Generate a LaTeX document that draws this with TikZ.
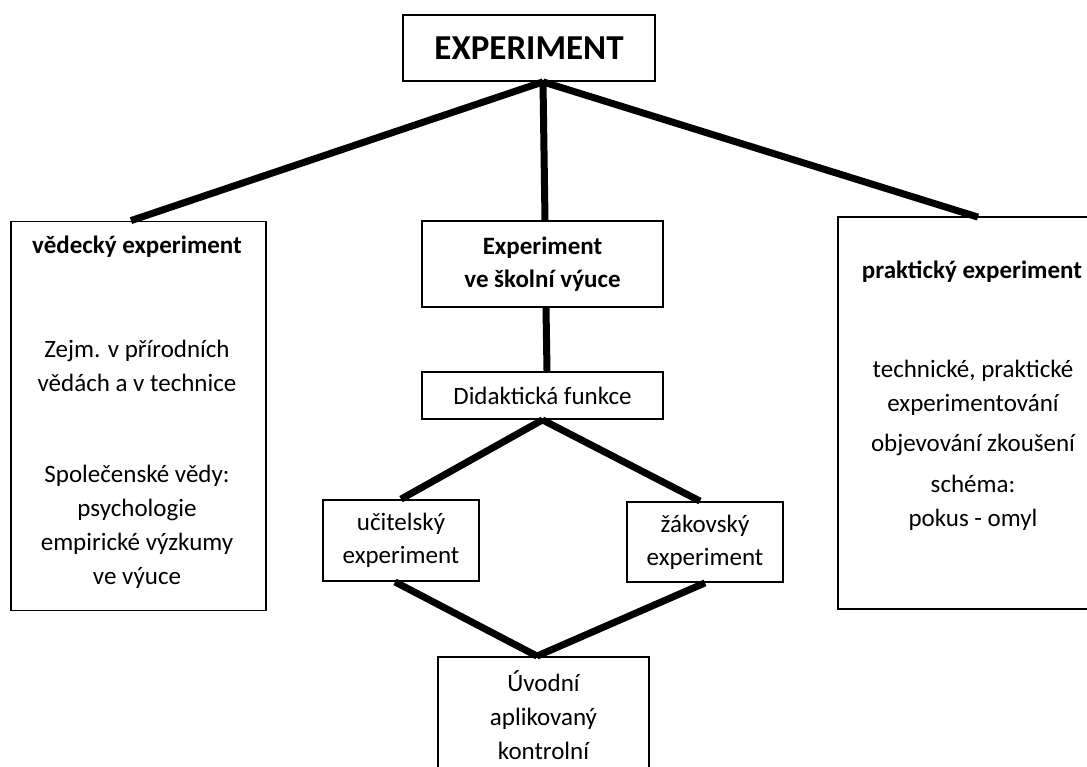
\documentclass[tikz,border=0pt]{standalone}
\usepackage{fontspec}
\setmainfont{Carlito}
\begin{document}
\begin{tikzpicture}[x=1pt,y=-1pt,
    box/.style={draw,line width=1.8pt,inner sep=0pt,align=center,font=\fontsize{25}{33}\selectfont},
    txt/.style={inner sep=0pt,align=center,font=\fontsize{25}{34}\selectfont},
    conn/.style={line width=7pt}]
    \useasboundingbox (0,0) rectangle (1087,767);

    \node[box,minimum width=252pt,minimum height=66pt,font=\fontsize{35}{40}\selectfont\bfseries] (exp) at (529,48) {EXPERIMENT};

    \node[box,minimum width=255pt,minimum height=389pt] (ved) at (138.5,416) {};
    \node[txt,font=\fontsize{25}{34}\selectfont\bfseries] (ved_t) at (137,247) {vědecký experiment};
    \node[txt] (ved_1) at (137,366) {Zejm. v přírodních\\vědách a v technice};
    \node[txt] (ved_2) at (137,527) {Společenské vědy:\\psychologie\\empirické výzkumy\\ve výuce};

    \node[box,minimum width=241pt,minimum height=86pt,font=\fontsize{25}{33}\selectfont\bfseries] (skola) at (542.5,264) {Experiment\\ve školní výuce};
    \node[box,minimum width=241pt,minimum height=47pt] (didak) at (542.5,395.5) {Didaktická funkce};
    \node[box,minimum width=156pt,minimum height=81pt] (ucit) at (401,540.5) {učitelský\\experiment};
    \node[box,minimum width=156pt,minimum height=80pt] (zak) at (705,542) {žákovský\\experiment};
    \node[box,minimum width=211pt,minimum height=160pt] (uvod) at (543.5,737) {};
    \node[txt] (uvod_t) at (543.5,715) {Úvodní\\aplikovaný\\kontrolní};

    % box runs off the right edge of the page
    \node[box,draw=none,minimum width=320pt,minimum height=390pt] (prak) at (999,413) {};
    \draw[line width=1.8pt] (prak.north east) -- (prak.north west) -- (prak.south west) -- (prak.south east);
    \node[txt,font=\fontsize{25}{34}\selectfont\bfseries] (prak_t) at (972,272) {praktický experiment};
    \node[txt] (prak_1) at (973,388) {technické, praktické\\experimentování};
    \node[txt] (prak_2) at (973,445) {objevování zkoušení};
    \node[txt] (prak_3) at (973,503) {schéma:\\pokus - omyl};

    \draw[conn] ([xshift=14pt]exp.south) -- ([xshift=-7.5pt]ved.north);
    \draw[conn] ([xshift=14pt]exp.south) -- ([xshift=2.5pt]skola.north);
    \draw[conn] ([xshift=14pt]exp.south) -- ([xshift=-21pt]prak.north);

    \draw[conn] ([xshift=3.5pt]skola.south) -- ([xshift=4.5pt]didak.north);
    \draw[conn] (didak.south) -- (ucit.north);
    \draw[conn] (didak.south) -- ([xshift=-5pt]zak.north);

    \draw[conn] ([xshift=-6pt]ucit.south) -- ([xshift=-6.5pt]uvod.north);
    \draw[conn] (zak.south) -- ([xshift=-6.5pt]uvod.north);
\end{tikzpicture}
\end{document}
